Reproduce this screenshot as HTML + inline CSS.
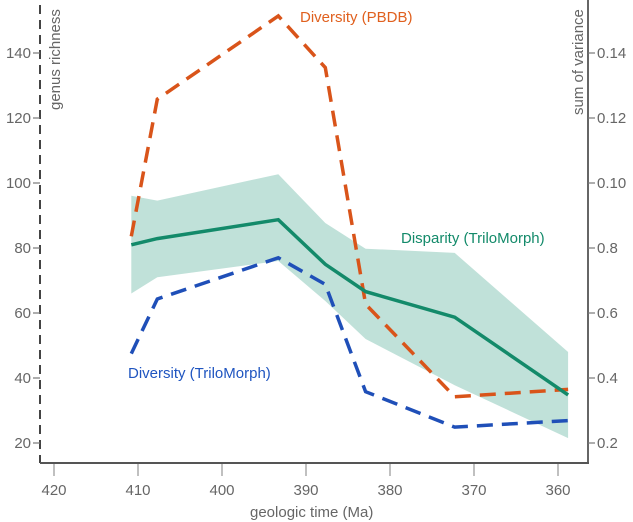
<!DOCTYPE html>
<html><head><meta charset="utf-8"><style>
body{margin:0;background:#fff}
svg{display:block;font-family:"Liberation Sans",sans-serif}
</style></head><body>
<svg id="chart" width="633" height="522"></svg>
<script>
const times=[410.8,407.7,393.3,387.7,382.9,372.3,358.8];
const pbdb=[83.6,125.8,151.4,135.5,62.7,34.2,36.5];
const triloDiv=[47.5,64.3,77,68.8,35.8,24.9,26.9];
const disparity=[81,82.9,88.7,75,66.6,58.7,34.8];
const bandUpper=[96.1,94.6,102.7,87.7,79.8,78.5,48];
const bandLower=[66,71,76,63.7,52,37.8,21.5];
const xTicks=[420,410,400,390,380,370,360];
const yTicks=[20,40,60,80,100,120,140];
const rTickLabels=["0.2","0.4","0.6","0.8","0.10","0.12","0.14"];

const NS="http://www.w3.org/2000/svg";
const svg=document.getElementById('chart');
const X=t=>54+(420-t)*8.4;
const Y=v=>53+(140-v)*3.25;
function el(tag,attrs,parent){const e=document.createElementNS(NS,tag);for(const k in attrs)e.setAttribute(k,attrs[k]);(parent||svg).appendChild(e);return e;}
const pts=arr=>arr.map((v,i)=>X(times[i]).toFixed(1)+','+Y(v).toFixed(1)).join(' ');

// band
const bandPts=pts(bandUpper)+' '+bandLower.map((v,i)=>[X(times[i]).toFixed(1),Y(v).toFixed(1)]).reverse().map(p=>p.join(',')).join(' ');
const band=el('polygon',{points:bandPts,fill:'#c0e1d9'});



// axes
const la=el('line',{x1:40,y1:5,x2:40,y2:463,stroke:'#444','stroke-width':2,'stroke-dasharray':'9,6'});


const ra=el('line',{x1:588,y1:0,x2:588,y2:464,stroke:'#666','stroke-width':2});


const ba=el('line',{x1:40,y1:463,x2:589,y2:463,stroke:'#555','stroke-width':2});



xTicks.forEach(t=>{
  const tk=el('line',{x1:X(t),y1:464,x2:X(t),y2:476,stroke:'#aaa','stroke-width':1.5});
  
  
  const tx=el('text',{x:X(t),y:495,'text-anchor':'middle','font-size':15,fill:'#666'});
  tx.textContent=t;
  
  
});
yTicks.forEach((v,i)=>{
  const tk=el('line',{x1:33,y1:Y(v),x2:40,y2:Y(v),stroke:'#777','stroke-width':1.2});
  
  
  const tx=el('text',{x:31,y:Y(v)+5,'text-anchor':'end','font-size':15,fill:'#666'});
  tx.textContent=v;
  
  
  const rk=el('line',{x1:588,y1:Y(v),x2:595,y2:Y(v),stroke:'#777','stroke-width':1.2});
  
  
  const rx=el('text',{x:597,y:Y(v)+5,'font-size':15,fill:'#666'});
  rx.textContent=rTickLabels[i];
  
  
});

// lines
const l1=el('polyline',{points:pts(pbdb),fill:'none',stroke:'#d9541a','stroke-width':3.5,'stroke-dasharray':'16,9'});


const l2=el('polyline',{points:pts(triloDiv),fill:'none',stroke:'#1f4fb8','stroke-width':3.5,'stroke-dasharray':'16,9'});


const l3=el('polyline',{points:pts(disparity),fill:'none',stroke:'#138a6a','stroke-width':3.5});



// labels
function lab(txt,x,y,c,name,rot){const t=el('text',{x:x,y:y,'font-size':15,fill:c});if(rot)t.setAttribute('transform',rot);t.textContent=txt;return t;}
lab('Diversity (PBDB)',300,22,'#e0601e','pbdb-label');
lab('Disparity (TriloMorph)',401,243,'#138a6a','disparity-label');
lab('Diversity (TriloMorph)',128,378,'#1f55c0','trilomorph-diversity-label');
lab('geologic time (Ma)',250,517,'#666','x-axis-title');
lab('genus richness',0,0,'#666','left-axis-title','translate(60,110) rotate(-90)');
lab('sum of variance',0,0,'#666','right-axis-title','translate(583,115) rotate(-90)');
</script>
</body></html>
